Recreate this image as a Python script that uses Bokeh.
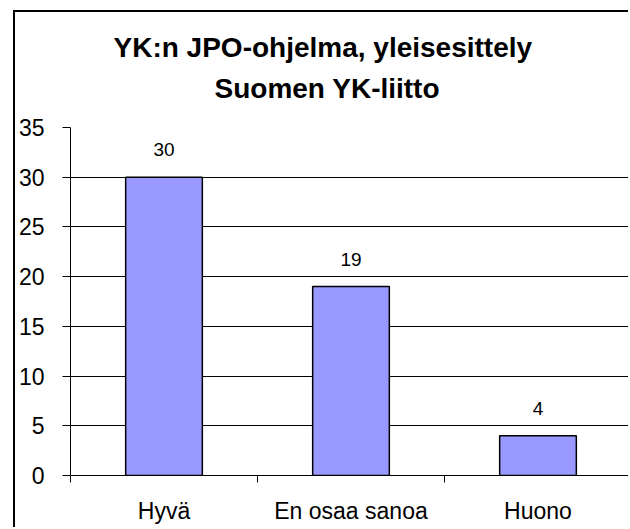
from bokeh.plotting import figure
from bokeh.models import ColumnDataSource, FixedTicker, Range1d, LabelSet, Title
from bokeh.core.properties import value
from bokeh.embed import file_html
from bokeh.resources import INLINE

# ---- data ----
categories = ["Hyvä", "En osaa sanoa", "Huono"]
values = [30, 19, 4]
y_ticks = [0, 5, 10, 15, 20, 25, 30, 35]
title_lines = ["YK:n JPO-ohjelma, yleisesittely", "Suomen YK-liitto"]

FONT = "Liberation Sans"
W, H = 615, 517
ML, MT, MB = 55, 115, 54
frame_w = W - ML
cat_px = 187.0

centers = [i + 0.5 for i in range(len(categories))]
src = ColumnDataSource(dict(x=centers, top=values, lab=[str(v) for v in values]))

p = figure(width=W, height=H, output_backend="svg", toolbar_location=None,
           x_range=Range1d(0, frame_w / cat_px), y_range=Range1d(0, 35),
           min_border_left=ML, min_border_top=MT, min_border_bottom=MB,
           min_border_right=0, background_fill_color="white",
           border_fill_color="white")
p.styles = {"margin-left": "13px", "margin-top": "10px",
            "border-left": "2px solid black", "border-top": "2px solid black"}
p.outline_line_color = None

p.vbar(x="x", top="top", width=0.41, bottom=0, source=src,
       fill_color="#9999FF", line_color="black", line_width=1.5)

p.add_layout(LabelSet(x="x", y="top", text="lab", source=src, y_offset=21,
                      text_align="center", text_baseline="alphabetic",
                      text_font=value(FONT), text_font_size=value("19px"),
                      text_color="black"))

# y axis
p.yaxis.ticker = FixedTicker(ticks=y_ticks)
p.yaxis.axis_line_color = "black"
p.yaxis.major_tick_out = 8
p.yaxis.major_tick_in = 0
p.yaxis.minor_tick_line_color = None
p.yaxis.major_label_standoff = 18
p.yaxis.major_label_text_font = FONT
p.yaxis.major_label_text_font_size = "23px"
p.yaxis.major_label_text_color = "black"
p.ygrid.ticker = FixedTicker(ticks=y_ticks)
p.ygrid.grid_line_color = "black"
p.ygrid.grid_line_width = 1

# x axis
p.xaxis.ticker = FixedTicker(ticks=centers, minor_ticks=list(range(len(categories) + 1)))
p.xaxis.major_label_overrides = {c: cat for c, cat in zip(centers, categories)}
p.xaxis.axis_line_color = "black"
p.xaxis.major_tick_out = 0
p.xaxis.major_tick_in = 0
p.xaxis.minor_tick_out = 7
p.xaxis.minor_tick_in = 0
p.xaxis.minor_tick_line_color = "black"
p.xaxis.major_label_standoff = 15
p.xaxis.major_label_text_font = FONT
p.xaxis.major_label_text_font_size = "23px"
p.xaxis.major_label_text_color = "black"
p.xgrid.grid_line_color = None

# title: spacer (nearest the frame), then line 2, then line 1
p.add_layout(Title(text=" ", text_font_size="1px", standoff=21), "above")
p.add_layout(Title(text=title_lines[1], align="left", offset=144,
                   vertical_align="bottom", standoff=0,
                   text_font=FONT, text_font_size="28px", text_font_style="bold",
                   text_color="black"), "above")
p.add_layout(Title(text=title_lines[0], align="left", offset=43,
                   vertical_align="bottom", standoff=15,
                   text_font=FONT, text_font_size="28px", text_font_style="bold",
                   text_color="black"), "above")

open("out.html", "w").write(file_html(p, INLINE))
